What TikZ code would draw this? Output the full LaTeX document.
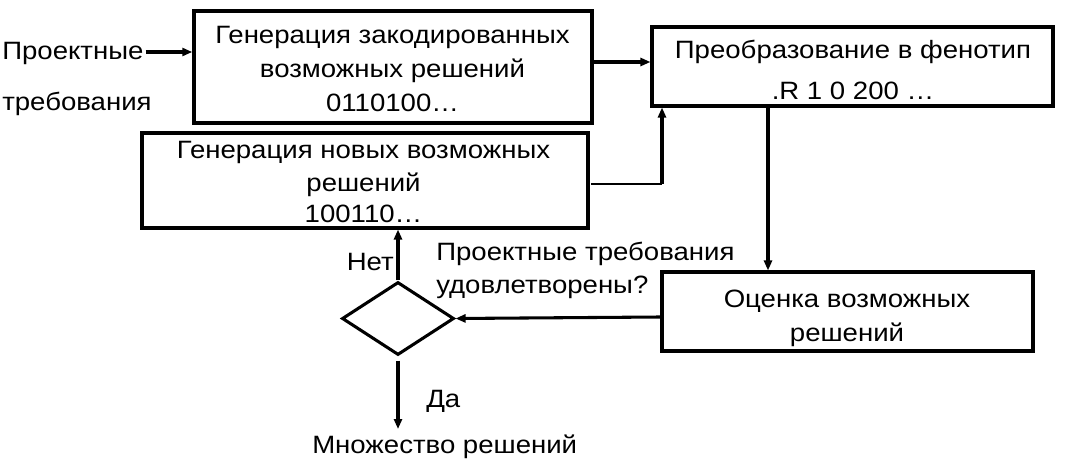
\documentclass[tikz,border=0pt]{standalone}
\usepackage{fontspec}
\setmainfont{Liberation Sans}[FakeStretch=1.1]
\usetikzlibrary{arrows.meta,shapes.geometric}
\tikzset{
  every node/.style={font=\fontsize{18.8}{25}\selectfont, inner sep=0pt},
  box/.style={draw, line width=2.6pt},
  ln/.style={anchor=base},
  lnw/.style={anchor=base west},
  conn/.style={line width=2.3pt, -{Triangle[length=7.5pt,width=6pt]}},
  plainline/.style={line width=2pt}
}
\begin{document}
\begin{tikzpicture}[x=0.75pt,y=-0.75pt]
\useasboundingbox (0,0) rectangle (1089,460);
% boxes
\node[box, minimum width=298.5pt, minimum height=84pt] (b1) at (393,67) {};
\node[box, minimum width=334.5pt, minimum height=71.25pt, line width=2.3pt] (b2) at (365,180.5) {};
\node[box, minimum width=300.75pt, minimum height=59.25pt, line width=2.3pt] (b3) at (852.5,66.5) {};
\node[box, minimum width=278.25pt, minimum height=59.25pt, line width=2.3pt] (b4) at (847.5,311.5) {};
\node[draw, diamond, line width=2.3pt, minimum width=84pt, minimum height=54.75pt] (d) at (398,318.5) {};
% box texts
\node[ln] (b1a) at (392.5,44) {Генерация закодированных};
\node[ln] (b1b) at (392.5,78) {возможных решений};
\node[ln] (b1c) at (392.5,112) {0110100…};
\node[ln] (b2a) at (363.5,158) {Генерация новых возможных};
\node[ln] (b2b) at (363.5,191) {решений};
\node[ln] (b2c) at (363.5,222) {100110…};
\node[ln] (b3a) at (853,59) {Преобразование в фенотип};
\node[ln] (b3b) at (853,99) {.R 1 0 200 …};
\node[ln] (b4a) at (847,307) {Оценка возможных};
\node[ln] (b4b) at (847,341) {решений};
% free texts
\node[lnw] (in1) at (2,60) {Проектные};
\node[lnw] (in2) at (2,110) {требования};
\node[anchor=base east] (no) at (394,270) {Нет};
\node[lnw] (yes) at (426,407) {Да};
\node[lnw] (res) at (312,453) {Множество решений};
\node[lnw] (q1) at (436,260) {Проектные требования};
\node[lnw] (q2) at (436,293) {удовлетворены?};
% coordinates
\coordinate (inA) at ([xshift=1.5pt]in1.east |- 0,52);
\coordinate (b2out) at (591,184);
\coordinate (b3in) at (662,184);
\coordinate (d2b) at (398,429);
% connectors
\draw[conn] (inA) -- (b1.west |- inA);
\draw[conn] (b1.east |- 0,62) -- (b3.west |- 0,62);
\draw[plainline] (b2out) -- (b3in);
\draw[conn] (b3in) -- (b3in |- b3.south);
\draw[conn] (b3.south -| 768,0) -- (b4.north -| 768,0);
\draw[conn] (b4.west |- 0,317) -- (d.east);
\draw[conn] (d.north) -- (b2.south -| d.north);
\draw[conn] ([yshift=-3pt]d.south) -- (d2b);
\end{tikzpicture}
\end{document}
